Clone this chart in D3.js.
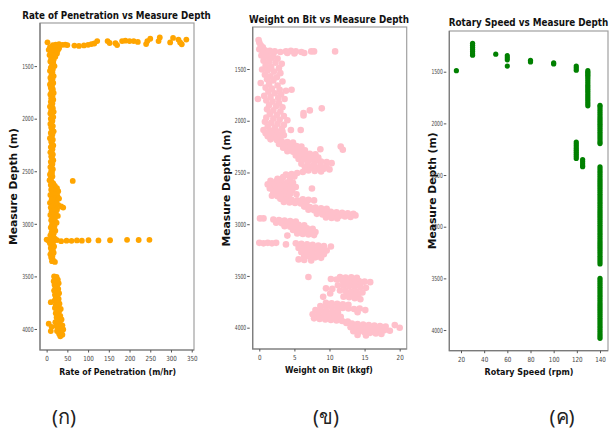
<!DOCTYPE html>
<html>
<head>
<meta charset="utf-8">
<script src="https://cdn.jsdelivr.net/npm/d3@7/dist/d3.min.js"></script>
<style>
  body { margin: 0; background: #fff; }
  svg { display: block; }
</style>
</head>
<body>
<div class="container"></div>
<script>
// ---- data ----
const depthTicks = [1500, 2000, 2500, 3000, 3500, 4000]
const ropTicks = [0, 50, 100, 150, 200, 250, 300, 350]
const wobTicks = [0, 5, 10, 15, 20]
const rpmTicks = [20, 40, 60, 80, 100, 120, 140]
const panelLabels = ['(ก)', '(ข)', '(ค)']

// [rate of penetration m/hr, depth m]
const ropPoints = [
  [2,1274],[15,1300],[22,1295],[30,1292],[38,1298],[45,1296],[50,1300],[67,1305],[78,1308],[90,1303],[100,1298],
  [108,1290],[115,1285],[122,1262],[147,1262],[152,1280],[166,1282],[170,1300],[182,1262],[190,1258],[200,1262],
  [210,1262],[220,1270],[240,1290],[243,1262],[250,1240],[273,1228],[270,1262],[298,1275],[305,1232],[318,1248],
  [322,1275],[326,1292],[337,1248],
  [8,1320],[15,1325],[22,1318],[30,1330],[5,1345],[12,1350],[20,1355],[27,1348],[10,1370],[18,1375],[25,1380],
  [7,1395],[14,1400],[21,1410],[11,1425],[17,1440],[9,1455],[16,1470],[13,1490],[19,1500],[10,1515],[15,1530],
  [8,1545],[14,1560],[12,1580],[17,1595],[9,1610],[14,1625],[11,1640],[16,1660],[8,1675],[13,1690],[10,1705],
  [15,1720],[12,1740],[17,1755],[9,1770],[14,1790],[11,1805],[16,1820],[10,1840],[14,1855],[12,1870],[8,1885],
  [15,1900],[11,1920],[17,1935],[9,1950],[13,1965],[16,1985],[10,2000],[14,2020],[12,2035],[9,2050],[15,2070],
  [11,2085],[13,2100],[17,2120],[10,2135],[14,2150],[12,2170],[8,2185],[15,2200],[11,2220],[13,2240],[16,2255],
  [10,2270],[14,2290],[12,2305],[9,2320],[15,2340],[11,2360],[13,2375],[16,2395],[10,2410],[14,2430],[12,2445],
  [9,2460],[15,2480],[11,2500],[13,2515],[8,2530],[14,2550],[10,2570],[7,2585],[63,2592],[12,2600],[16,2615],
  [10,2630],[20,2640],[14,2655],[25,2660],[11,2675],[18,2685],[28,2690],[15,2705],[22,2715],[9,2725],[26,2735],
  [13,2745],[19,2755],[30,2760],[12,2770],[24,2780],[17,2790],[8,2800],[21,2810],[28,2820],[14,2830],[35,2835],
  [40,2845],[10,2845],[19,2855],[25,2865],[12,2880],[22,2890],[16,2905],[9,2915],[27,2925],[14,2935],[20,2950],
  [11,2965],[17,2980],[24,2990],[13,3005],[19,3020],[10,3035],[15,3050],[21,3065],[12,3080],[17,3095],[9,3110],
  [14,3125],[20,3140],[0,3150],[5,3160],[11,3155],[16,3170],[25,3155],[35,3165],[48,3160],[60,3162],[73,3158],
  [85,3160],[101,3156],[125,3158],[153,3156],[194,3152],[222,3154],[248,3152],[8,3185],[13,3200],[18,3215],
  [10,3230],[15,3245],[12,3260],[17,3275],[9,3290],[14,3305],[11,3320],[15,3340],[13,3355],[20,3362],
  [18,3500],[24,3505],[20,3520],[27,3530],[17,3545],[23,3555],[29,3565],[19,3580],[25,3595],[21,3610],[28,3620],
  [18,3635],[24,3650],[30,3660],[20,3675],[26,3690],[22,3705],[29,3715],[19,3730],[25,3745],[10,3745],[31,3760],
  [22,3770],[28,3785],[20,3800],[34,3810],[25,3820],[30,3835],[22,3850],[27,3865],[33,3875],[24,3890],[30,3900],
  [36,3910],[26,3925],[21,3935],[32,3945],[5,3950],[28,3960],[38,3965],[24,3975],[12,3980],[34,3990],[29,4000],
  [40,4005],[10,4020],[25,4020],[35,4030],[30,4045],[38,4055],[33,4070]
]

// [weight on bit kkgf, depth m]
const wobPoints = [
  [-0.1,1220],[0,1245],[0.2,1270],[0.5,1290],[0,1310],[0.8,1320],[1.5,1325],[2.2,1330],[3,1335],[3.8,1330],
  [4.5,1325],[5.2,1330],[6,1335],[6.4,1345],[0.5,1340],[1.2,1345],[2,1350],[4,1345],[5,1350],[7.4,1330],
  [7.8,1330],[10.8,1330],
  [0.3,1370],[1,1380],[1.8,1390],[2.6,1400],[0.6,1420],[1.4,1430],[2.3,1440],[3.2,1450],[0.9,1465],[1.7,1480],
  [2.8,1490],[0.4,1505],[1.2,1515],[2.1,1525],[3,1540],[0.8,1555],[1.6,1570],[2.5,1580],[1.1,1600],[2,1610],
  [3.3,1620],[0.2,1635],[1.4,1645],[2.6,1660],[0.9,1680],[1.8,1690],[2.9,1700],[3.8,1710],[4.6,1700],[1.3,1720],
  [2.2,1735],[3.1,1745],[0.7,1760],[1.6,1770],[2.7,1780],[3.6,1790],[-0.2,1790],[1,1805],[1.9,1815],[2.8,1830],
  [1.4,1850],[2.4,1860],[3.3,1870],[8.9,1880],[1.1,1890],[2,1900],[7.2,1900],[3,1910],[6.3,1925],[1.5,1935],
  [2.5,1945],[6.3,1950],[3.5,1955],[1,1970],[2,1980],[2.9,1990],[4,1995],[0.8,2010],[1.7,2020],[2.6,2030],
  [3.5,2040],[1.2,2055],[2.2,2065],[3.2,2075],
  [0.6,2090],[1.5,2095],[2.4,2100],[3.3,2105],[4.5,2090],[5.9,2090],[0.9,2120],[1.8,2125],[2.7,2130],[3.5,2140],
  [1.2,2150],[2.1,2160],[3,2165],[1.6,2180],[2.5,2185],
  [3.2,2200],[4,2205],[4.8,2210],[2.8,2225],[3.6,2230],[4.5,2240],[5.3,2245],[6,2250],[3.4,2260],[4.2,2265],
  [5,2275],[5.8,2280],[6.5,2285],[8.7,2275],[11.6,2250],[11.9,2280],[4,2295],[4.8,2300],[5.6,2310],[6.4,2315],
  [7.2,2320],[8,2325],
  [5.2,2335],[6,2340],[6.8,2345],[7.6,2350],[8.4,2355],[5.6,2370],[6.4,2375],[7.2,2380],[8,2390],[8.8,2395],
  [9.6,2400],[10.3,2410],[6,2415],[6.9,2420],[7.8,2425],[8.7,2430],[9.5,2440],[6.5,2450],[7.4,2455],[8.3,2460],
  [9.2,2465],[10,2470],[7,2480],[7.9,2485],[8.8,2490],[6.2,2495],[5.4,2505],[4.6,2515],[3.8,2520],[4.2,2530],
  [5,2540],[3.4,2545],[2.6,2560],[4.4,2555],
  [1.6,2580],[2.4,2585],[3.2,2590],[4,2595],[4.8,2600],[1.2,2615],[2,2620],[2.8,2625],[3.6,2630],[4.4,2635],
  [5.2,2640],[1.5,2655],[2.3,2660],[3.1,2665],[3.9,2670],[4.7,2675],[7.5,2655],[2,2690],[2.8,2695],[3.6,2700],
  [4.4,2705],[5.3,2710],[1.8,2725],[2.6,2730],[3.4,2735],[4.2,2740],
  [3,2755],[3.8,2760],[4.6,2765],[5.4,2770],[6.2,2760],[7,2765],[7.8,2770],[3.5,2785],[4.3,2790],[5.1,2795],
  [5.9,2800],[6.7,2805],
  [6.4,2830],[7.2,2835],[8,2840],[8.8,2845],[9.6,2850],[7,2860],[7.8,2865],[8.6,2870],[9.4,2875],[10.2,2880],
  [11,2885],[11.8,2890],[12.6,2895],[13.4,2900],[8.2,2900],[9,2905],[9.8,2910],[10.6,2915],[11.4,2920],
  [12.2,2925],[13,2930],[13.7,2915],[9.5,2935],[10.3,2940],[11.1,2945],[0.1,2944],[0.6,2944],
  [2,2955],[2.8,2960],[3.6,2965],[4.4,2970],[5.2,2975],[2.4,2985],[3.2,2990],[4,2995],[4.8,3000],[5.6,3005],
  [6.4,3010],[3.6,3020],[4.4,3025],[5.2,3030],[6,3035],[6.8,3040],[7.6,3045],[4.8,3055],[5.6,3060],[6.4,3065],
  [7.2,3070],[8,3075],[5.4,3090],[6.2,3095],[7,3100],[7.8,3105],[4,3110],
  [0,3180],[0.6,3185],[1.2,3180],[1.8,3185],[2.4,3180],[3.8,3195],
  [5.2,3185],[6,3190],[6.8,3195],[7.6,3200],[8.4,3205],[9.2,3210],[10.2,3215],[5.6,3230],[6.4,3235],[7.2,3240],
  [8,3245],[8.8,3250],[9.6,3255],[6,3270],[6.8,3275],[7.6,3280],[8.4,3285],[9.2,3290],[6.4,3310],[7.2,3315],
  [8,3320],[8.8,3325],[5.6,3340],[6.4,3345],[7.4,3350],
  [7,3510],[11.5,3510],[12.3,3515],[13.1,3512],[13.9,3518],[10.2,3530],[11,3535],[11.8,3540],[12.6,3545],
  [13.4,3540],[14.2,3550],[15,3555],[15.8,3560],[12,3565],[12.8,3570],[13.6,3575],[14.4,3580],[11.2,3590],
  [12,3595],[12.8,3600],[13.6,3605],[14.4,3610],[15.2,3615],[9.5,3620],[10.4,3625],[11.5,3640],[12.3,3645],
  [13.1,3650],[13.9,3655],[14.7,3660],[10.1,3670],[12.5,3675],[13.3,3680],[14.1,3690],[9.1,3702],[12,3700],
  [12.8,3705],[13.6,3715],[14.4,3725],
  [9.5,3760],[10.3,3765],[11.1,3770],[11.9,3775],[12.7,3780],[8.7,3790],[9.5,3795],[10.3,3800],[11.1,3805],
  [11.9,3810],[12.7,3815],[13.5,3820],[14.3,3815],[15.1,3830],[8,3830],[8.8,3835],[9.6,3840],[10.4,3845],
  [11.2,3850],[14,3850],[7.6,3870],[8.4,3875],[9.2,3880],[10,3885],[10.8,3890],[11.6,3895],[7.8,3910],
  [8.6,3915],[9.4,3920],[10.2,3925],[11,3930],[11.8,3935],[12.6,3940],
  [12.4,3955],[13.2,3960],[14,3965],[14.8,3970],[15.6,3975],[16.4,3980],[17.2,3985],[18,3990],[19.3,3975],
  [13,3995],[13.8,4000],[14.6,4005],[15.4,4010],[16.2,4015],[17,4020],[17.8,4025],[18.6,4030],[20,4000],
  [13.4,4035],[14.2,4040],[15,4045],[15.8,4050],[16.6,4055],[17.4,4060],[14,4070],[15.2,4075]
]

// [rotary speed rpm, depth m] scattered points
const rpmPoints = [
  [16,1490],[30,1225],[30,1245],[30,1265],[30,1285],[30,1305],[30,1325],[30,1340],[50,1330],[60,1345],
  [60,1365],[60,1385],[60,1445],[80,1390],[80,1405],[100,1415],[100,1425],[119.5,1445],[119.5,1465],[119.5,1485]
]
// depths of the near-vertical runs
const rpm130Depths = [1490,1505,1520,1535,1550,1570,1590,1610,1630,1650,1670,1690,1710,1730,1750,1770,1790,1810,1830]
const rpm140DepthsA = [1825,1840,1860,1880,1900,1920,1940,1960,1980,2000,2020,2040,2060,2080,2100,2120,2140,2160,2180,2195]
const rpm120Depths = [2180,2200,2220,2240,2260,2280,2300,2320,2340]
const rpm125Depths = [2350,2370,2390,2410,2420]
const rpm140DepthsB = [2420,2440,2460,2480,2500,2520,2540,2560,2580,2600,2620,2640,2660,2680,2700,2720,2740,2760,
  2780,2800,2820,2840,2860,2880,2900,2920,2940,2960,2980,3000,3020,3040,3060,3080,3100,3120,3140,3160,3180,3200,
  3220,3240,3260,3280,3300,3320,3340,3360]
const rpm140DepthsC = [3500,3520,3540,3560,3580,3600,3620,3640,3660,3680,3700,3720,3740,3760,3780,3800,3820,3840,
  3860,3880,3900,3920,3940,3960,3980,4000,4020,4040,4060,4080]

const rpmAll = rpmPoints
  .concat(rpm130Depths.map(d => [129.5, d]))
  .concat(rpm140DepthsA.map(d => [140, d]))
  .concat(rpm120Depths.map(d => [119.5, d]))
  .concat(rpm125Depths.map(d => [125, d]))
  .concat(rpm140DepthsB.map(d => [140, d]))
  .concat(rpm140DepthsC.map(d => [140, d]))

// ---- layout ----
const w = 612
const h = 431
const svg = d3.select('.container')
              .append('svg')
              .attr('width', w)
              .attr('height', h)

const panels = [
  {data: ropPoints, color: '#ffa500', r: 2.9,
   left: 40, right: 194, top: 23, bottom: 350,
   xDomain: [-16, 355.5], yDomain: [1090, 4200], xTicks: ropTicks,
   title: 'Rate of Penetration vs Measure Depth', titleX: 116.5, titleY: 19, titleW: 189,
   xLabel: 'Rate of Penetration (m/hr)', xLabelX: 117.7, xLabelY: 374.5, xLabelW: 117,
   yLabelX: 17},
  {data: wobPoints, color: '#ffc0cb', r: 3.3,
   left: 252.7, right: 406.7, top: 27, bottom: 349,
   xDomain: [-0.94, 21.0], yDomain: [1094, 4206], xTicks: wobTicks,
   title: 'Weight on Bit vs Measure Depth', titleX: 329, titleY: 22.5, titleW: 160,
   xLabel: 'Weight on Bit (kkgf)', xLabelX: 329, xLabelY: 372.5, xLabelW: 88,
   yLabelX: 230},
  {data: rpmAll, color: '#008000', r: 2.6,
   left: 449.3, right: 608, top: 31, bottom: 350.7,
   xDomain: [9.9, 146.9], yDomain: [1106, 4200], xTicks: rpmTicks,
   title: 'Rotary Speed vs Measure Depth', titleX: 528.5, titleY: 26, titleW: 160,
   xLabel: 'Rotary Speed (rpm)', xLabelX: 529, xLabelY: 375, xLabelW: 89,
   yLabelX: 436}
]

const fontFam = '"DejaVu Sans", sans-serif'

// text squeezed horizontally to a target width (the source picture is narrowed)
function fitText(g, str, cx, cy, width, size, rotate) {
  const t = g.append('text')
             .attr('text-anchor', 'middle')
             .style('font-family', fontFam)
             .style('font-weight', 'bold')
             .style('font-size', size + 'px')
             .attr('fill', '#111')
             .text(str)
  const natural = t.node().getComputedTextLength()
  const s = width / natural
  if (rotate) {
    t.attr('transform', 'translate(' + cx + ',' + cy + ') rotate(-90) scale(' + s + ',1)')
  } else {
    t.attr('transform', 'translate(' + cx + ',' + cy + ') scale(' + s + ',1)')
  }
}

panels.forEach(p => {
  const xScale = d3.scaleLinear().domain(p.xDomain).range([p.left, p.right])
  const yScale = d3.scaleLinear().domain(p.yDomain).range([p.top, p.bottom])
  const g = svg.append('g')

  // points
  g.append('g')
   .selectAll('circle')
   .data(p.data)
   .enter()
   .append('circle')
   .attr('cx', d => xScale(d[0]))
   .attr('cy', d => yScale(d[1]))
   .attr('r', p.r)
   .attr('fill', p.color)

  // frame
  g.append('rect')
   .attr('x', p.left)
   .attr('y', p.top)
   .attr('width', p.right - p.left)
   .attr('height', p.bottom - p.top)
   .attr('fill', 'none')
   .attr('stroke', '#a0a0a0')
   .attr('stroke-width', 1.2)
  g.append('path')
   .attr('d', `M${p.left},${p.top}V${p.bottom}H${p.right}`)
   .attr('fill', 'none')
   .attr('stroke', '#7a7a7a')
   .attr('stroke-width', 1.2)

  // axes
  const xAxis = d3.axisBottom(xScale).tickValues(p.xTicks).tickSize(2.5).tickPadding(3.5)
                  .tickFormat(d3.format('d'))
  const yAxis = d3.axisLeft(yScale).tickValues(depthTicks).tickSize(2.5)
                  .tickFormat(d3.format('d'))

  const gx = g.append('g')
              .attr('transform', 'translate(0,' + p.bottom + ')')
              .call(xAxis)
  const gy = g.append('g')
              .attr('transform', 'translate(' + (p.left - 3) + ',0)')
              .call(yAxis)

  gx.select('.domain').remove()
  gy.select('.domain').remove()
  gx.selectAll('.tick line').attr('stroke', '#555')
  gy.selectAll('.tick line').attr('stroke', '#555')

  gx.selectAll('.tick text')
    .attr('fill', '#444')
    .style('font-family', fontFam)
    .style('font-size', '7px')
    .attr('transform', 'scale(0.8,1)')
  gy.selectAll('.tick text')
    .attr('fill', '#444')
    .style('font-family', fontFam)
    .style('font-size', '7px')
    .attr('x', -3.5 / 0.64)
    .attr('transform', 'scale(0.64,1)')

  // titles and labels
  fitText(g, p.title, p.titleX, p.titleY, p.titleW, 10, false)
  fitText(g, p.xLabel, p.xLabelX, p.xLabelY, p.xLabelW, 9, false)
  fitText(g, 'Measure Depth (m)', p.yLabelX, (p.top + p.bottom) / 2, 117, 10.5, true)
})

// panel captions
const captionX = [64, 326, 562]
svg.append('g')
   .selectAll('text')
   .data(panelLabels)
   .enter()
   .append('text')
   .attr('x', (d, i) => captionX[i])
   .attr('y', 424)
   .attr('text-anchor', 'middle')
   .style('font-family', '"Noto Sans", "DejaVu Sans", sans-serif')
   .style('font-size', '20px')
   .attr('fill', '#222')
   .text(d => d)
</script>
</body>
</html>
